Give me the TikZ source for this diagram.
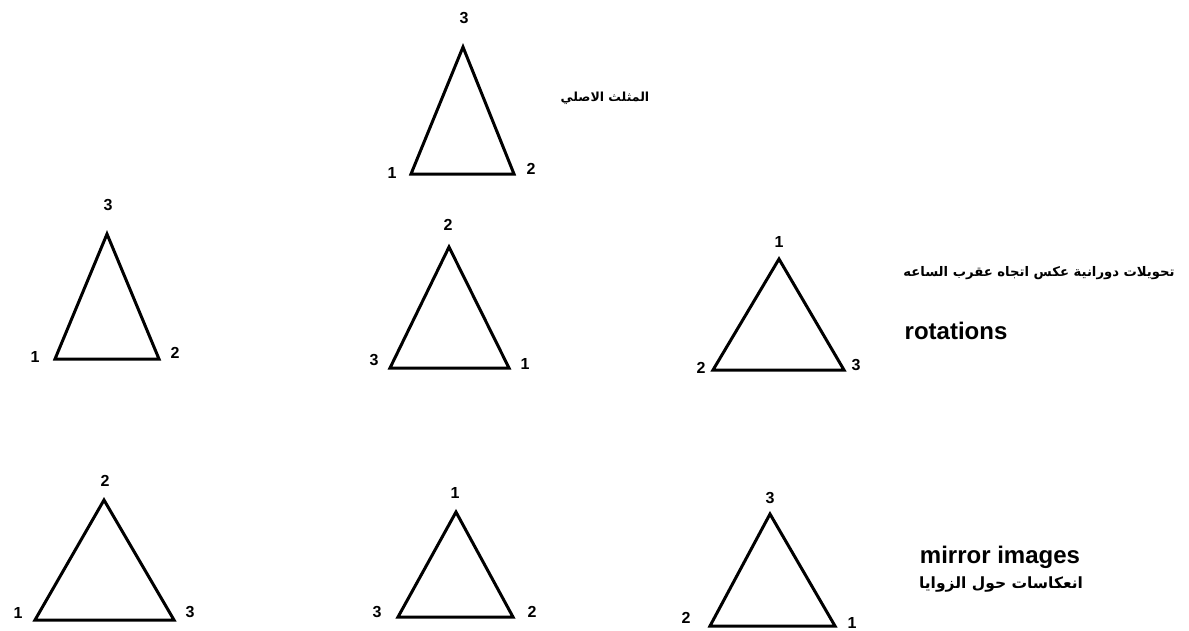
\documentclass[tikz,border=0pt]{standalone}
\usepackage{fontspec}
\setmainfont{Liberation Sans}
\newfontfamily\arabicfont[Script=Arabic]{DejaVu Sans}
\TeXXeTstate=1
\begin{document}
\begin{tikzpicture}[x=1pt,y=-1pt,
  tri/.style={line width=3pt,line join=miter},
  num/.style={font=\fontsize{16}{16}\selectfont\bfseries,inner sep=0pt},
  big/.style={font=\fontsize{24}{24}\selectfont\bfseries,inner sep=0pt},
  ar/.style={inner sep=0pt}]
\useasboundingbox (0,0) rectangle (1189,630);
% original triangle
\coordinate (t0a) at (463,47); \coordinate (t0l) at (411,174); \coordinate (t0r) at (514,174);
\draw[tri] (t0a) -- (t0l) -- (t0r) -- cycle;
\node[num] (t0n3) at (464,18) {3};
\node[num] (t0n1) at (392,173) {1};
\node[num] (t0n2) at (531,169) {2};
% rotations
\coordinate (r1a) at (107,234); \coordinate (r1l) at (55,359); \coordinate (r1r) at (159,359);
\draw[tri] (r1a) -- (r1l) -- (r1r) -- cycle;
\node[num] (r1n3) at (108,205) {3};
\node[num] (r1n1) at (35,357) {1};
\node[num] (r1n2) at (175,353) {2};
\coordinate (r2a) at (449,247); \coordinate (r2l) at (390,368); \coordinate (r2r) at (509,368);
\draw[tri] (r2a) -- (r2l) -- (r2r) -- cycle;
\node[num] (r2n2) at (448,225) {2};
\node[num] (r2n3) at (374,360) {3};
\node[num] (r2n1) at (525,364) {1};
\coordinate (r3a) at (779,259); \coordinate (r3l) at (713,370); \coordinate (r3r) at (844,370);
\draw[tri] (r3a) -- (r3l) -- (r3r) -- cycle;
\node[num] (r3n1) at (779,242) {1};
\node[num] (r3n2) at (701,368) {2};
\node[num] (r3n3) at (856,365) {3};
% mirror images
\coordinate (m1a) at (104,500); \coordinate (m1l) at (35,620); \coordinate (m1r) at (174,620);
\draw[tri] (m1a) -- (m1l) -- (m1r) -- cycle;
\node[num] (m1n2) at (105,481) {2};
\node[num] (m1n1) at (18,613) {1};
\node[num] (m1n3) at (190,612) {3};
\coordinate (m2a) at (456,512); \coordinate (m2l) at (398,617); \coordinate (m2r) at (513,617);
\draw[tri] (m2a) -- (m2l) -- (m2r) -- cycle;
\node[num] (m2n1) at (455,493) {1};
\node[num] (m2n3) at (377,612) {3};
\node[num] (m2n2) at (532,612) {2};
\coordinate (m3a) at (770,514); \coordinate (m3l) at (710,626); \coordinate (m3r) at (835,626);
\draw[tri] (m3a) -- (m3l) -- (m3r) -- cycle;
\node[num] (m3n3) at (770,498) {3};
\node[num] (m3n2) at (686,618) {2};
\node[num] (m3n1) at (852,623) {1};
% texts
\node[ar,font=\arabicfont\fontsize{12.5}{12.5}\selectfont\bfseries] (orig) at (605,98) {\beginR المثلث الاصلي\endR};
\node[ar,font=\arabicfont\fontsize{13.2}{13.2}\selectfont\bfseries] (rottxt) at (1039,273) {\beginR تحويلات دورانية عكس اتجاه عقرب الساعه\endR};
\node[big] (rot) at (956,331) {rotations};
\node[big] (mir) at (1000,557) {mirror images};
\node[ar,font=\arabicfont\fontsize{15.5}{15.5}\selectfont\bfseries] (mirtxt) at (1001,584) {\beginR انعكاسات حول الزوايا\endR};
\end{tikzpicture}
\end{document}
